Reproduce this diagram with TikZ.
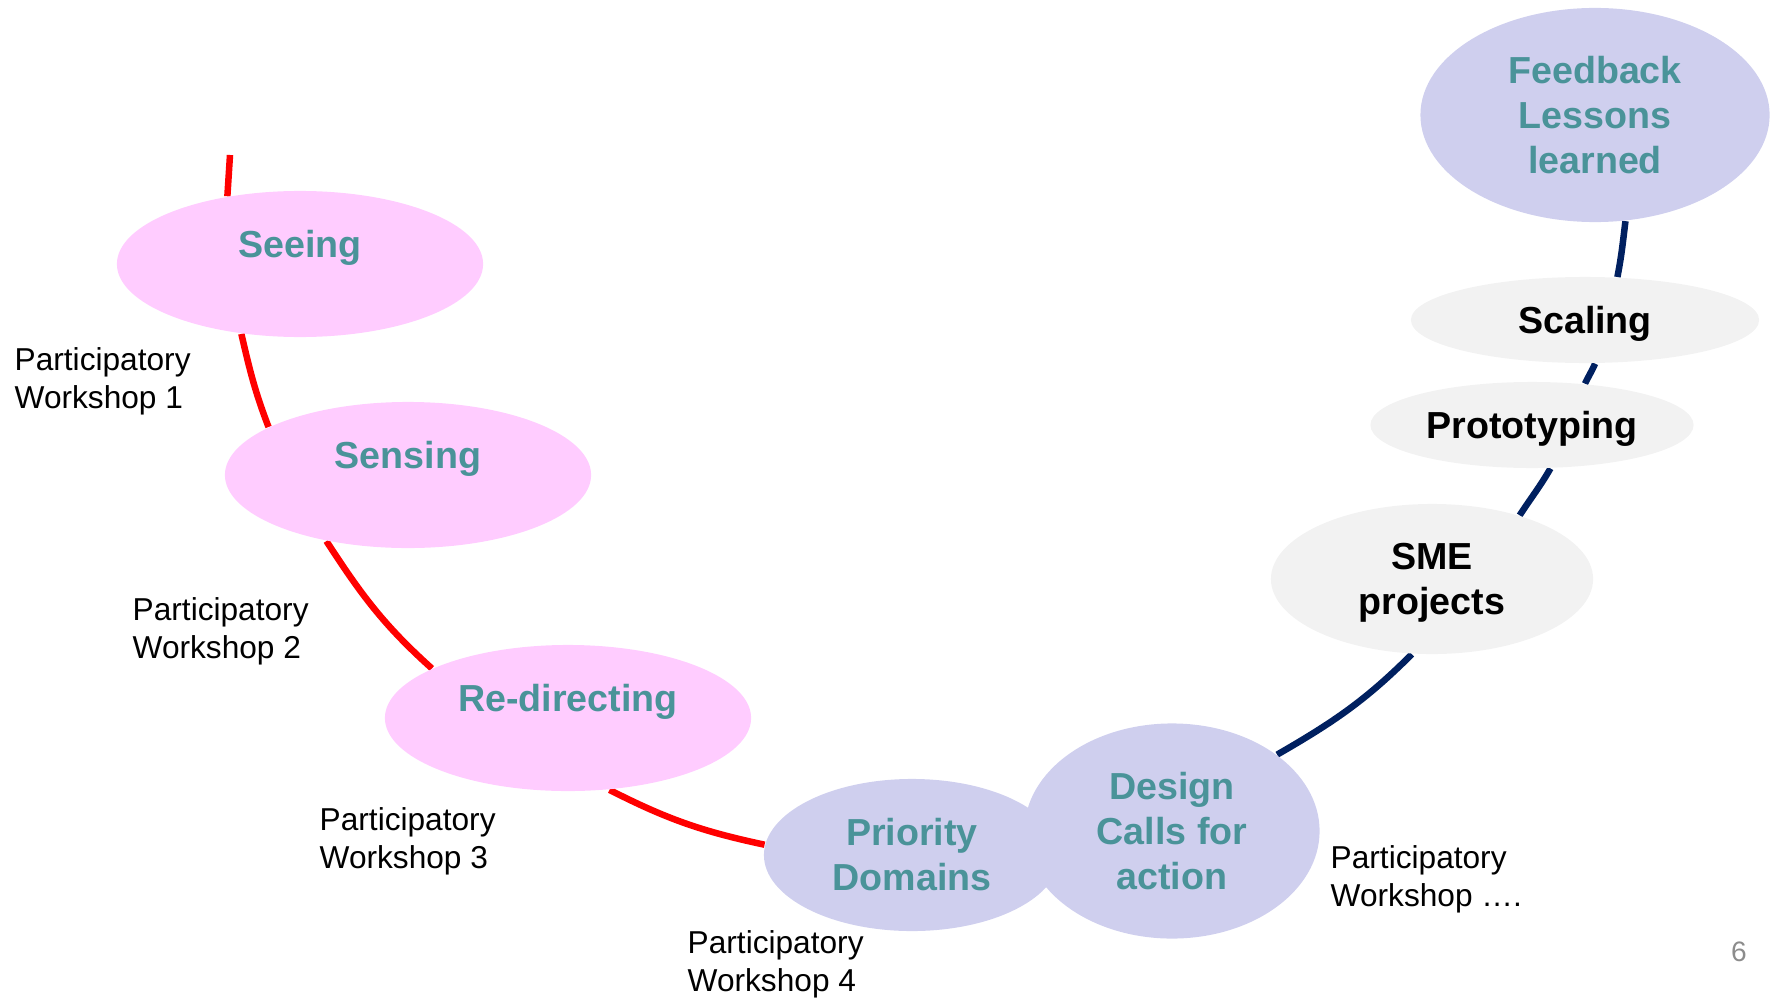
\documentclass[tikz,border=0pt]{standalone}
\usepackage{fontspec}
\setmainfont{Liberation Sans}
\usetikzlibrary{shapes.geometric,backgrounds}
\definecolor{pinkfill}{HTML}{FFCCFF}
\definecolor{lilacfill}{HTML}{CFCFEE}
\definecolor{greyfill}{HTML}{F2F2F2}
\definecolor{tealtext}{HTML}{4A9399}
\definecolor{navy}{HTML}{002060}
\definecolor{pagegrey}{HTML}{8C8C8C}
\begin{document}
\begin{tikzpicture}[
        x=0.01cm, y=-0.01cm,
        stage/.style={ellipse, inner sep=0pt, align=center, font=\bfseries\fontsize{10.7}{12.8}\selectfont},
        pinkstage/.style={stage, fill=pinkfill, text=tealtext, minimum width=3.66cm, minimum height=1.46cm, text height=0.3cm, text depth=0.43cm},
        lilacstage/.style={stage, fill=lilacfill, text=tealtext},
        greystage/.style={stage, fill=greyfill, text=black, text depth=0pt},
        workshop/.style={anchor=north west, inner sep=0pt, align=left, font=\fontsize{9}{10.8}\selectfont},
        redline/.style={red, line width=0.065cm},
        navyline/.style={navy, line width=0.065cm}
    ]
    \useasboundingbox (0,0) rectangle (1774,997);
    % Nodes
    \node[pinkstage] (seeing) at (300,264) {Seeing};
    \node[pinkstage] (sensing) at (408,475) {Sensing};
    \node[pinkstage] (redirect) at (568,718) {Re-directing};
    \node[lilacstage, minimum width=2.96cm, minimum height=1.52cm] (priority) at (912,855) {Priority\\Domains};
    \node[lilacstage, minimum width=2.95cm, minimum height=2.15cm] (design) at (1172,831) {Design\\Calls for\\action};
    \node[greystage, minimum width=3.22cm, minimum height=1.5cm] (sme) at (1432,579) {SME\\projects};
    \node[greystage, minimum width=3.23cm, minimum height=0.86cm] (proto) at (1532,425) {Prototyping};
    \node[greystage, minimum width=3.48cm, minimum height=0.86cm] (scaling) at (1585,320) {Scaling};
    \node[lilacstage, minimum width=3.49cm, minimum height=2.14cm] (feedback) at (1595,115) {Feedback\\Lessons\\learned};
    % Workshops
    \node[workshop] (pw1) at (14,347) {Participatory\\Workshop 1};
    \node[workshop] (pw2) at (132,597) {Participatory\\Workshop 2};
    \node[workshop] (pw3) at (319,807) {Participatory\\Workshop 3};
    \node[workshop] (pw4) at (687,930) {Participatory\\Workshop 4};
    \node[workshop] (pw5) at (1330,845) {Participatory\\Workshop ….};
    \node[font=\fontsize{8}{9.6}\selectfont, text=pagegrey] (page) at (1739,952) {6};
    % Edges
    \begin{pgfonlayer}{background}
    \coordinate (top) at (230,155);
    \draw[redline] (top) -- (seeing.137);
    \draw[redline] (seeing.230) to[out=-77, in=111] (sensing.161);
    \draw[redline] (sensing.219) to[out=-57, in=138] (redirect.160);
    \draw[redline] (redirect.300) to[out=-27, in=168] (priority.176);
    \draw[navyline] (design.36) to[out=30, in=225] (sme.255);
    \draw[navyline] (sme.36) to[out=57, in=240] (proto.293);
    \draw[navyline] (proto.38) to[out=64, in=246] (scaling.283);
    \draw[navyline] (scaling.53) to[out=79, in=263] (feedback.286);
    \end{pgfonlayer}
\end{tikzpicture}
\end{document}
